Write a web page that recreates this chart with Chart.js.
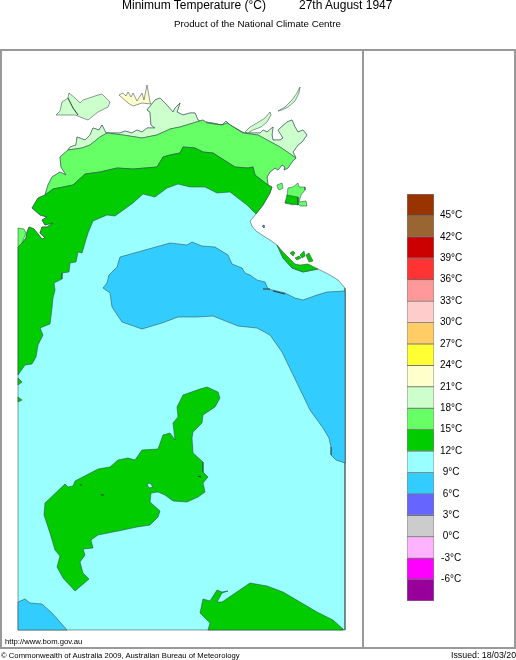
<!DOCTYPE html>
<html>
<head>
<meta charset="utf-8">
<title>Minimum Temperature</title>
<script src="https://cdn.jsdelivr.net/npm/chart.js@4/dist/chart.umd.min.js"></script>
<style>
  html, body { margin: 0; padding: 0; background: #fff; }
  #page { position: relative; width: 516px; height: 660px; overflow: hidden; font-family: "Liberation Sans", Arial, sans-serif; color: #000; }
  #page canvas { position: absolute; }
  .txt { position: absolute; white-space: nowrap; line-height: 1; }
  .rule { position: absolute; background: #999; }
</style>
</head>
<body>
<div id="page">
  <div class="rule" style="left:0;top:49px;width:516px;height:2px"></div>
  <div class="rule" style="left:0;top:647px;width:516px;height:2px"></div>
  <div class="rule" style="left:0;top:49px;width:2px;height:600px"></div>
  <div class="rule" style="left:362px;top:49px;width:2px;height:600px"></div>
  <div class="rule" style="left:514px;top:49px;width:2px;height:600px"></div>
  <canvas id="mapChart" width="516" height="660" style="left:0;top:0"></canvas>
  <canvas id="scaleChart" width="115" height="427" style="left:395px;top:184px"></canvas>
  <span class="txt" style="left:122px;top:-1px;font-size:12px">Minimum Temperature (°C)</span>
  <span class="txt" style="left:299px;top:-1px;font-size:12px">27th August 1947</span>
  <span class="txt" style="left:174px;top:19px;font-size:9.75px">Product of the National Climate Centre</span>
  <span class="txt" style="left:5px;top:638px;font-size:7.7px">http://www.bom.gov.au</span>
  <span class="txt" style="left:1px;top:652px;font-size:7.7px">© Commonwealth of Australia 2009, Australian Bureau of Meteorology</span>
  <span class="txt" style="left:451px;top:651px;font-size:8.8px">Issued: 18/03/2009</span>
</div>
<script>
// Temperature scale
const bandEdges = [48, 45, 42, 39, 36, 33, 30, 27, 24, 21, 18, 15, 12, 9, 6, 3, 0, -3, -6, -9];
const bandColors = [
  "#993300", "#996633", "#CC0000", "#FF3333", "#FF9999", "#FFCCCC", "#FFCC66",
  "#FFFF33", "#FFFFCC", "#CCFFCC", "#66FF66", "#00CC00", "#99FFFF", "#33CCFF",
  "#6666FF", "#CCCCCC", "#FFB3FF", "#FF00FF", "#990099",
];
const scaleTicks = [45, 42, 39, 36, 33, 30, 27, 24, 21, 18, 15, 12, 9, 6, 3, 0, -3, -6];

// Map grid extent
const gridX = [18, 345];
const gridY = [50, 630];

// Coast, walked clockwise from the west edge, split where the isotherms meet it
const coastWest = [[18,247],[22,243],[26,238],[27,232],[29,227],[34,229],[38,234],[42,239],[45,238],[40,233],[42,227],[47,227],[53,223],[45,225],[42,220],[47,217],[40,215],[32,208],[38,198],[45,195]];
const coast18West = [[45,195],[48,185],[52,177],[60,172],[66,175],[61,167],[60,157],[68,150]];
const coast21 = [[68,150],[70,147],[76,145],[77,137],[85,140],[90,135],[93,128],[99,130],[102,125],[106,133],[120,133],[125,131],[132,133],[137,130],[142,132],[147,128],[155,128],[151,125],[150,112],[147,110],[151,105],[155,100],[160,98],[165,103],[173,112],[175,108],[180,103],[177,112],[183,115],[190,113],[195,113],[198,120],[205,125],[206,122],[212,123],[222,125],[226,121],[230,125],[237,129],[244,133],[250,133],[260,133],[263,130],[267,132],[273,127],[272,135],[273,140],[280,140],[283,138],[278,130],[287,122],[292,120],[295,127],[298,132],[303,130],[307,135],[302,142],[298,145],[293,152],[296,158]];
const coast18East = [[296,158],[292,162],[288,168],[284,170],[285,167],[282,165],[278,170],[275,168],[270,172],[267,177],[268,185]];
const coast15East = [[268,185],[272,187],[270,193],[263,205],[256,214]];
const coastGulf = [[256,214],[250,221],[252,226],[256,231],[262,235],[270,240],[277,245],[283,258],[292,268],[303,272],[318,269],[330,275],[338,280],[345,288]];
const landCorners = [[345,630],[18,630]];

// Isotherms
const line21to18 = [[68,150],[82,148],[90,145],[100,137],[107,133],[123,135],[142,138],[157,135],[170,129],[180,127],[203,120],[207,123],[222,125],[227,123],[243,133],[258,135],[280,147],[296,158]];
const line18to15 = [[45,195],[53,189],[73,185],[85,174],[100,172],[117,168],[133,169],[157,167],[163,157],[170,155],[180,153],[183,147],[195,148],[203,152],[213,153],[235,167],[248,168],[253,167],[255,175],[268,185]];
const line15to12 = [[256,214],[247,205],[230,192],[217,193],[205,187],[190,187],[178,184],[167,188],[155,197],[143,194],[133,203],[115,216],[107,215],[93,221],[88,233],[82,253],[78,252],[76,262],[70,263],[69,272],[62,273],[62,279],[54,283],[55,290],[53,298],[52,308],[50,324],[40,328],[43,335],[38,345],[36,357],[32,364],[25,365],[18,375]];

// Closed areas
const blue9North = [[345,291],[327,292],[317,295],[303,300],[295,298],[285,293],[277,291],[268,289],[265,282],[257,280],[250,275],[245,273],[242,268],[232,264],[228,255],[215,247],[202,246],[192,242],[187,245],[170,243],[120,257],[117,267],[109,275],[107,283],[103,288],[110,293],[112,307],[122,322],[142,329],[162,323],[178,317],[197,317],[213,316],[238,326],[257,328],[270,335],[282,352],[297,383],[310,410],[323,428],[329,438],[331,447],[331,455],[336,460],[345,463]];
const blue9South = [[18,602],[25,599],[30,603],[42,604],[52,613],[60,622],[67,630],[18,630]];
const green15Central = [[207,387],[218,392],[220,398],[215,407],[203,415],[202,423],[193,432],[192,438],[193,453],[203,462],[203,472],[208,477],[203,483],[205,492],[198,497],[187,502],[173,501],[165,495],[158,492],[151,493],[150,502],[160,511],[158,517],[150,525],[137,527],[123,530],[108,533],[98,535],[91,540],[93,548],[83,549],[85,555],[80,562],[83,573],[89,579],[75,591],[63,578],[57,567],[60,556],[55,550],[50,533],[44,515],[45,503],[65,484],[68,487],[73,486],[75,481],[98,469],[110,467],[118,460],[128,458],[135,460],[142,450],[158,449],[163,435],[170,433],[175,440],[173,423],[178,417],[177,407],[183,395],[200,389]];
const centralHole = [[147,484],[150,483],[153,487],[149,488]];
const green15South = [[208,630],[210,623],[200,613],[203,599],[210,601],[217,590],[222,592],[228,591],[222,593],[217,602],[222,602],[250,583],[267,586],[283,592],[300,602],[317,612],[333,620],[343,629],[343,630]];
const green15Crescent = [[277,245],[283,252],[288,257],[295,264],[300,265],[308,264],[318,269],[303,272],[292,268],[283,258]];
const baySpots = [
  [[290,253],[293,251],[295,253],[293,256]],
  [[300,255],[304,251],[305,256],[302,258]],
  [[306,255],[309,253],[313,261],[309,262]],
  [[295,258],[299,256],[301,258],[297,260]],
];
const green18Sliver = [[18,228],[24,229],[26,233],[22,243],[18,247]];
const westSpots = [
  [[18,378],[22,382],[18,385]],
  [[18,397],[22,400],[18,402]],
];
const green18Groote = [[287,195],[288,188],[293,187],[298,183],[299,187],[305,187],[305,190],[301,195],[299,202],[306,201],[307,206],[300,206],[297,203],[293,205],[285,203],[288,198]];
const green15Groote = [[287,195],[298,197],[298,205],[288,203],[285,203]];
const green18Islet = [[277,185],[282,183],[283,188],[280,190],[278,189]];
const cyanIslet = [[262,226],[264,225],[264,228]];
const pale21Melville = [[56,115],[60,111],[62,102],[68,98],[69,93],[75,98],[80,103],[83,100],[95,96],[102,94],[110,102],[108,107],[98,112],[88,120],[75,115],[62,115]];
const pale21Peninsula = [[245,132],[250,127],[257,123],[265,118],[270,112],[271,115],[267,122],[261,127],[253,130],[248,133]];
const pale21Sliver = [[278,111],[285,107],[292,100],[297,93],[300,87],[299,93],[295,101],[288,107],[282,110]];
const cream24 = [[119,95],[123,93],[126,96],[128,92],[131,97],[133,93],[137,101],[142,93],[144,100],[147,85],[150,102],[151,104],[142,103],[133,106],[128,103]];

// Short open strokes
const darkStrokes = [
  [[68,98],[73,108],[78,115]],
  [[263,289],[270,289]],
  [[273,291],[285,294]],
  [[80,485],[82,485]],
  [[101,495],[104,495]],
  [[198,476],[201,477]],
];

const COLOR_18 = "#66FF66";
const COLOR_15 = "#00CC00";
const COLOR_12 = "#99FFFF";
const COLOR_9 = "#33CCFF";
const COLOR_21 = "#CCFFCC";
const COLOR_24 = "#FFFFCC";

function toPoints(pairs) {
  return pairs.map((p) => ({ x: p[0], y: p[1] }));
}

// Areas in paint order, the first one lies at the bottom
const areas = [
  [[...coastWest, ...coast18West, ...coast21, ...coast18East, ...coast15East, ...coastGulf, ...landCorners, coastWest[0]], COLOR_12],
  [blue9North, COLOR_9],
  [blue9South, COLOR_9],
  [[...coast21, ...[...line21to18].reverse()], COLOR_21],
  [[...coast18West, ...line21to18, ...coast18East, ...[...line18to15].reverse()], COLOR_18],
  [[...coastWest, ...line18to15, ...coast15East, ...line15to12, coastWest[0]], COLOR_15],
  [green15Central, COLOR_15],
  [centralHole, COLOR_12],
  [green15South, COLOR_15],
  [green15Crescent, COLOR_15],
  ...baySpots.map((s) => [s, COLOR_15]),
  ...westSpots.map((s) => [s, COLOR_15]),
  [green18Sliver, COLOR_18],
  [green18Groote, COLOR_18],
  [green15Groote, COLOR_15],
  [green18Islet, COLOR_18],
  [cyanIslet, COLOR_12],
  [pale21Melville, COLOR_21],
  [pale21Peninsula, COLOR_21],
  [pale21Sliver, COLOR_21],
  [cream24, COLOR_24],
];

const mapDatasets = areas.map((area, i) => ({
  data: toPoints([...area[0], area[0][0]]),
  showLine: true,
  fill: "shape",
  backgroundColor: area[1],
  borderColor: "rgba(45, 65, 70, 0.75)",
  borderWidth: 0.7,
  pointRadius: 0,
  tension: 0,
  clip: 2,
  order: areas.length - i + 1,
}));
darkStrokes.forEach((stroke) => {
  mapDatasets.push({
    data: toPoints(stroke),
    showLine: true,
    fill: false,
    borderColor: "#333",
    borderWidth: 1,
    pointRadius: 0,
    order: 0,
  });
});

new Chart(document.getElementById("mapChart"), {
  type: "scatter",
  data: { datasets: mapDatasets },
  options: {
    responsive: false,
    animation: false,
    devicePixelRatio: 1,
    layout: { padding: { left: gridX[0], right: 516 - gridX[1], top: gridY[0], bottom: 660 - gridY[1] } },
    plugins: { legend: { display: false }, tooltip: { enabled: false } },
    events: [],
    scales: {
      x: { type: "linear", min: gridX[0], max: gridX[1], display: false },
      y: { type: "linear", min: gridY[0], max: gridY[1], reverse: true, display: false },
    },
  },
});

// Colour bar, one floating bar per band
new Chart(document.getElementById("scaleChart"), {
  type: "bar",
  data: {
    labels: ["band"],
    datasets: bandColors.map((color, i) => ({
      data: [[bandEdges[i + 1], bandEdges[i]]],
      backgroundColor: color,
      borderColor: "rgba(50, 50, 50, 0.6)",
      borderWidth: 0.8,
      borderSkipped: false,
      grouped: false,
      barPercentage: 1,
      categoryPercentage: 1,
    })),
  },
  options: {
    responsive: false,
    animation: false,
    devicePixelRatio: 1,
    layout: { padding: { left: 12, right: 0, top: 10, bottom: 10 } },
    plugins: { legend: { display: false }, tooltip: { enabled: false } },
    events: [],
    scales: {
      x: { display: false },
      y: {
        position: "right",
        min: -9,
        max: 48,
        afterFit: (scale) => {
          scale.width = 76;
          scale.paddingTop = 0;
          scale.paddingBottom = 0;
        },
        grid: { display: false, drawTicks: false },
        border: { display: false },
        afterBuildTicks: (scale) => {
          scale.ticks = scaleTicks.map((value) => ({ value }));
        },
        ticks: {
          autoSkip: false,
          padding: 6,
          crossAlign: "center",
          color: "#000",
          font: { family: "'Liberation Sans', Arial, sans-serif", size: 10 },
          callback: (value) => `${value}°C`,
        },
      },
    },
  },
});
</script>
</body>
</html>
